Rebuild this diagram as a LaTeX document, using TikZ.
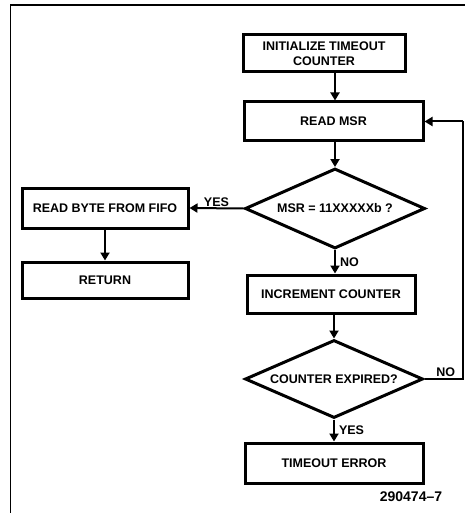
\documentclass[tikz,border=0pt]{standalone}
\usepackage{fontspec}
\setmainfont{Liberation Sans}
\usetikzlibrary{shapes.geometric,arrows.meta}
\begin{document}
\begin{tikzpicture}[x=1pt,y=-1pt,
  font=\bfseries\fontsize{12.5}{14.5}\selectfont,
  box/.style={draw,line width=3pt,rectangle,inner sep=0pt,align=center},
  dec/.style={draw,line width=3pt,diamond,aspect=2.25,inner sep=0pt,align=center},
  conn/.style={line width=2pt,-{Triangle[width=9pt,length=8pt]}},
  plain/.style={line width=2pt},
  lbl/.style={inner sep=1pt}]
\useasboundingbox (0,0) rectangle (465,513);
\draw[line width=1.6pt] (10.5,513) -- (10.5,5) -- (465,5);
\node[box,minimum width=162pt,minimum height=37pt] (init) at (324,53.5) {INITIALIZE TIMEOUT\\COUNTER};
\node[box,minimum width=179pt,minimum height=39pt] (readmsr) at (333.5,121.5) {READ MSR};
\node[dec,minimum width=180pt,minimum height=80pt] (d1) at (335,208.5) {MSR = 11XXXXXb ?};
\node[box,minimum width=166pt,minimum height=40pt] (fifo) at (105,208) {READ BYTE FROM FIFO};
\node[box,minimum width=166pt,minimum height=36pt] (ret) at (105,280) {RETURN};
\node[box,minimum width=168pt,minimum height=38pt] (inc) at (331,294) {INCREMENT COUNTER};
\node[dec,minimum width=178pt,minimum height=78pt] (d2) at (334,379) {COUNTER EXPIRED?};
\node[box,minimum width=178pt,minimum height=40pt] (terr) at (334,463) {TIMEOUT ERROR};
\node[lbl,font=\bfseries\fontsize{14}{16}\selectfont] (code) at (411,497) {290474--7};
\coordinate (c1) at (463,379);
\coordinate (c2) at (463,121.5);
\draw[conn] (init.south -| d1.north) -- (readmsr.north -| d1.north);
\draw[conn] (readmsr.south -| d1.north) -- (d1.north);
\draw[conn] (d1.west) -- node[lbl,above] {YES} (fifo.east);
\draw[conn] (fifo.south -| ret.north) -- (ret.north);
\draw[conn] (d1.south) -- node[lbl,right,xshift=3pt] {NO} (inc.north -| d1.south);
\draw[conn] (inc.south -| d2.north) -- (d2.north);
\draw[conn] (d2.south) -- node[lbl,right,xshift=3pt] {YES} (terr.north -| d2.south);
\draw[plain] (d2.east) -- node[lbl,above,pos=0.55] {NO} (c1) -- (c2);
\draw[conn] (c2) -- (readmsr.east);
\end{tikzpicture}
\end{document}
